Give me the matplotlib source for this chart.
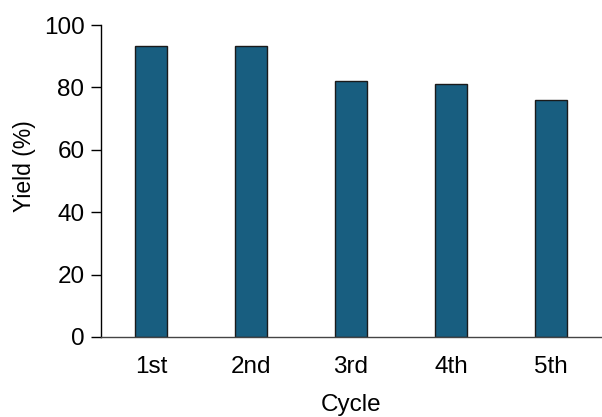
import matplotlib.pyplot as plt

plt.rcParams['font.family'] = ['Liberation Sans', 'DejaVu Sans']

# Data
cycles = ['1st', '2nd', '3rd', '4th', '5th']
yield_pct = [93.2, 93.2, 82.1, 81.1, 76.0]
y_ticks = [0, 20, 40, 60, 80, 100]

fig = plt.figure(figsize=(6.02, 4.17), dpi=100)
ax = fig.add_axes([0.168, 0.192, 0.830, 0.748])

ax.bar(range(len(cycles)), yield_pct, width=0.32, color='#185e80',
       edgecolor='#1a1a1a', linewidth=1.0)

ax.set_xlim(-0.5, len(cycles) - 0.5)
ax.set_ylim(0, 100)
ax.set_xticks(range(len(cycles)))
ax.set_xticklabels(cycles)
ax.set_yticks(y_ticks)

for s in ['top', 'right']:
    ax.spines[s].set_visible(False)
ax.spines['left'].set_linewidth(1.0)
ax.spines['bottom'].set_linewidth(1.0)
ax.spines['bottom'].set_color('#444444')

ax.tick_params(axis='y', direction='out', length=7, width=1, labelsize=17.5, pad=5)
ax.tick_params(axis='x', length=0, labelsize=17.5, pad=14)

ax.set_ylabel('Yield (%)', fontsize=16.5)
ax.yaxis.set_label_coords(-0.13, 0.548)
ax.set_xlabel('Cycle', fontsize=17.5, labelpad=11)

fig.savefig('out.png', dpi=100)
